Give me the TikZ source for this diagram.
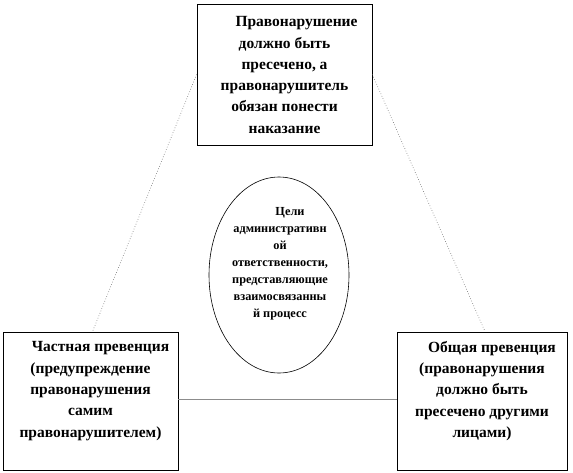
\documentclass[tikz,border=0pt]{standalone}
\usepackage{fontspec}
\setmainfont{Liberation Serif}
\usetikzlibrary{shapes.geometric}
\begin{document}
\begin{tikzpicture}[x=1pt,y=-1pt,
  boxnode/.style={draw=black,line width=0.8pt,rectangle,inner sep=0pt},
  txt/.style={align=center,font=\fontsize{15.5}{21.3}\selectfont\bfseries,inner sep=0pt},
  etxt/.style={align=center,font=\fontsize{12.3}{17}\selectfont\bfseries,inner sep=0pt},
  dotline/.style={draw=black!60,dotted,line width=0.6pt},
  solidline/.style={draw=black!45,line width=0.6pt}]
\useasboundingbox (0,0) rectangle (573,472);
\node[boxnode,minimum width=175pt,minimum height=141pt] (T) at (284.5,74.5) {};
\node[txt] (Tt) at (284.5,75) {\hspace*{24pt}Правонарушение\\должно быть\\пресечено, а\\правонарушитель\\обязан понести\\наказание};
\node[boxnode,minimum width=175pt,minimum height=138pt] (L) at (90.5,401) {};
\node[txt] (Lt) at (90.5,391) {\hspace*{20pt}Частная превенция\\(предупреждение\\правонарушения\\самим\\правонарушителем)};
\node[boxnode,minimum width=170pt,minimum height=138pt] (R) at (482,401) {};
\node[txt] (Rt) at (482,391) {\hspace*{20pt}Общая превенция\\(правонарушения\\должно быть\\пресечено другими\\лицами)};
\node[draw=black,line width=0.6pt,ellipse,minimum width=140pt,minimum height=196pt,inner sep=0pt] (E) at (279,275) {};
\node[etxt] (Et) at (280,264) {\hspace*{20pt}Цели\\административн\\ой\\ответственности,\\представляющие\\взаимосвязанны\\й процесс};
\draw[dotline] (T.west) -- ([xshift=2pt]L.north);
\draw[dotline] (T.east) -- ([xshift=3pt]R.north);
\draw[solidline] ([yshift=2pt]L.east) -- ([yshift=2pt]R.west);
\end{tikzpicture}
\end{document}
